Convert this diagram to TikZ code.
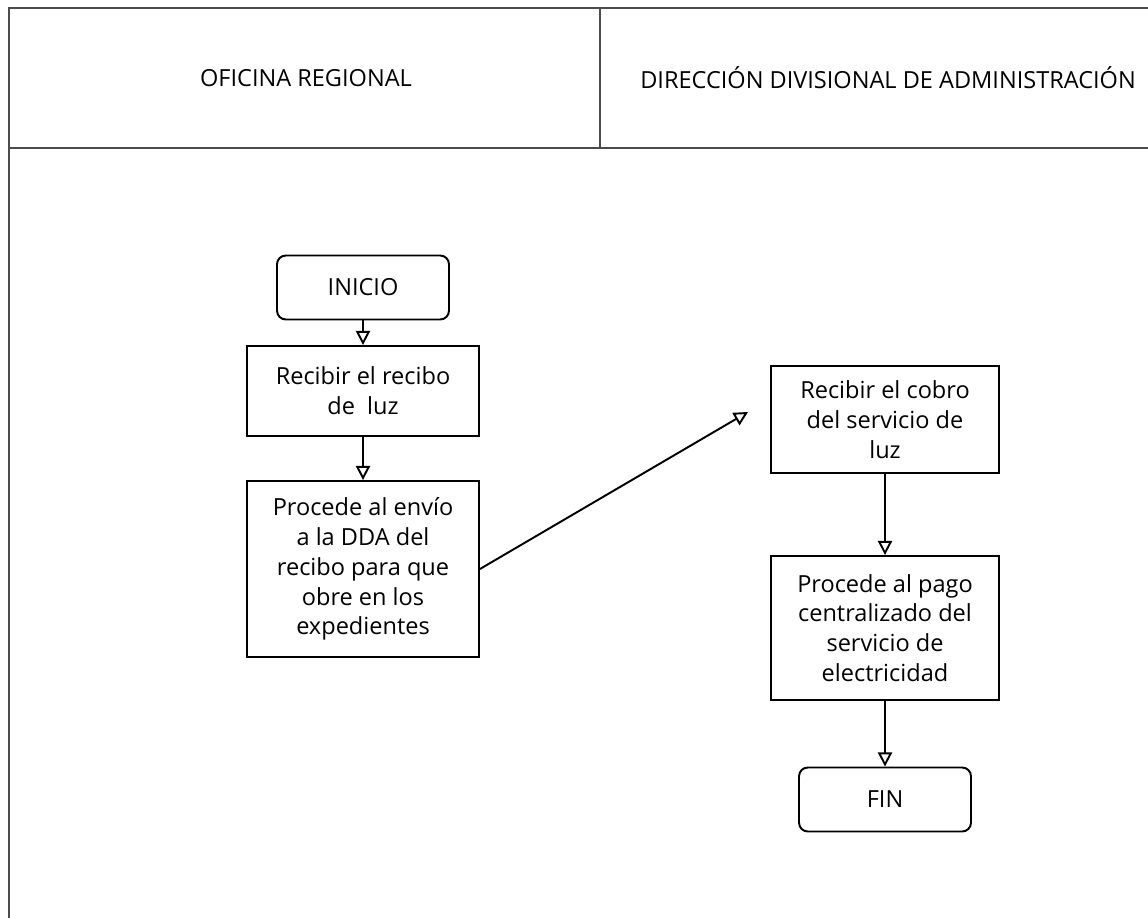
\documentclass[tikz,border=0pt]{standalone}
\usepackage{fontspec}
\setmainfont{Open Sans}
\usetikzlibrary{arrows.meta}
\begin{document}
\begin{tikzpicture}[x=0.02cm,y=-0.02cm,
  frame/.style={draw=black!70,line width=0.9pt},
  procbox/.style={draw,line width=1.1pt,rectangle,align=center,inner sep=0pt,
    font=\fontsize{13.4}{17}\selectfont},
  termbox/.style={draw,line width=1.1pt,rectangle,rounded corners=5pt,align=center,inner sep=0pt,
    minimum width=3.44cm,minimum height=1.28cm,font=\fontsize{13.4}{17}\selectfont},
  flow/.style={line width=1.1pt,-{Triangle[open,length=8pt,width=8pt]}},
  lanehead/.style={font=\fontsize{13.4}{17}\selectfont}]
\useasboundingbox (0,0) rectangle (1148,918);

% swimlane frame
\draw[frame] (9,918) -- (9,8) -- (1148,8);
\draw[frame] (9,148) -- (1148,148);
\draw[frame] (600,8) -- (600,148);
\node[lanehead] (laneA) at (306,78) {OFICINA REGIONAL};
\node[lanehead] (laneB) at (888,78) {DIRECCIÓN DIVISIONAL DE ADMINISTRACIÓN};

% Oficina Regional
\node[termbox] (inicio) at (363,287.5) {INICIO};
\node[procbox,minimum width=4.64cm,minimum height=1.8cm] (recibo) at (363,391)
  {Recibir el recibo\\de\ \ luz};
\node[procbox,minimum width=4.64cm,minimum height=3.52cm] (envio) at (363,569)
  {Procede al envío\\a la DDA del\\recibo para que\\obre en los\\expedientes};

% Dirección Divisional de Administración
\node[procbox,minimum width=4.56cm,minimum height=2.14cm] (cobro) at (885,419.5)
  {Recibir el cobro\\del servicio de\\luz};
\node[procbox,minimum width=4.56cm,minimum height=2.88cm] (pago) at (885,628)
  {Procede al pago\\centralizado del\\servicio de\\electricidad};
\node[termbox] (fin) at (885,799.5) {FIN};

\coordinate (envioTip) at (748,412);

\draw[flow] (inicio) -- (recibo);
\draw[flow] (recibo) -- (envio);
\draw[flow] (envio.east) -- (envioTip);
\draw[flow] (cobro) -- (pago);
\draw[flow] (pago) -- (fin);
\end{tikzpicture}
\end{document}
